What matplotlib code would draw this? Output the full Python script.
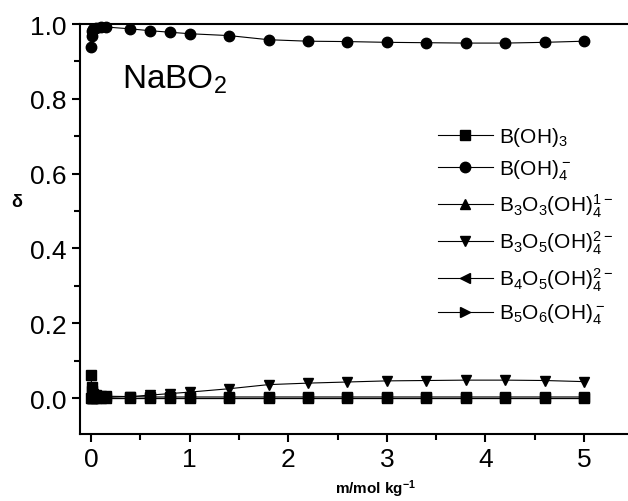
import matplotlib
matplotlib.use("Agg")
import matplotlib.pyplot as plt

plt.rcParams["font.family"] = ["Liberation Sans", "DejaVu Sans"]
plt.rcParams["mathtext.default"] = "regular"

# molality (mol/kg)
m = [0.001, 0.005, 0.01, 0.02, 0.05, 0.1, 0.15, 0.4, 0.6, 0.8, 1.0,
     1.4, 1.8, 2.2, 2.6, 3.0, 3.4, 3.8, 4.2, 4.6, 5.0]

b_oh3 = [0.062, 0.030, 0.018, 0.012, 0.008, 0.006, 0.005, 0.004, 0.003, 0.003, 0.003,
         0.003, 0.003, 0.003, 0.003, 0.003, 0.003, 0.003, 0.003, 0.003, 0.003]
b_oh4 = [0.938, 0.968, 0.980, 0.986, 0.990, 0.992, 0.992, 0.987, 0.982, 0.978, 0.974,
         0.969, 0.958, 0.954, 0.953, 0.951, 0.950, 0.949, 0.949, 0.951, 0.954]
b3o3 = [0.000, 0.000, 0.000, 0.000, 0.000, 0.000, 0.000, 0.000, 0.000, 0.000, 0.000,
        0.000, 0.000, 0.000, 0.000, 0.000, 0.000, 0.000, 0.000, 0.000, 0.000]
b3o5 = [0.000, 0.000, 0.000, 0.001, 0.001, 0.002, 0.002, 0.004, 0.008, 0.012, 0.016,
        0.025, 0.036, 0.040, 0.043, 0.046, 0.047, 0.048, 0.048, 0.047, 0.044]
b4o5 = [0.000, 0.000, 0.000, 0.000, 0.000, 0.000, 0.000, 0.000, 0.000, 0.000, 0.000,
        0.000, 0.000, 0.000, 0.000, 0.000, 0.000, 0.000, 0.000, 0.000, 0.000]
b5o6 = [0.000, 0.000, 0.000, 0.000, 0.000, 0.000, 0.000, 0.000, 0.000, 0.000, 0.000,
        0.000, 0.000, 0.000, 0.000, 0.000, 0.000, 0.000, 0.000, 0.000, 0.000]

series = [
    (b_oh3, "s", r"B(OH)$_3$"),
    (b_oh4, "o", r"B(OH)$_4^-$"),
    (b3o3, "^", r"B$_3$O$_3$(OH)$_4^{1-}$"),
    (b3o5, "v", r"B$_3$O$_5$(OH)$_4^{2-}$"),
    (b4o5, "<", r"B$_4$O$_5$(OH)$_4^{2-}$"),
    (b5o6, ">", r"B$_5$O$_6$(OH)$_4^-$"),
]

fig = plt.figure(figsize=(6.28, 5.02), dpi=100)
ax = fig.add_axes([80 / 628, 67 / 502, 548 / 628, 410 / 502])

for vals, mk, lab in series:
    ax.plot(m, vals, color="black", lw=0.8, marker=mk, markersize=7.5,
            label=lab, clip_on=False)

ax.set_xlim(-0.112, 5.446)
ax.set_ylim(-0.096, 1.0)
ax.set_xticks([0, 1, 2, 3, 4, 5])
ax.set_xticks([0.5, 1.5, 2.5, 3.5, 4.5], minor=True)
ax.set_yticks([0.0, 0.2, 0.4, 0.6, 0.8, 1.0])
ax.set_yticks([0.1, 0.3, 0.5, 0.7, 0.9], minor=True)
ax.yaxis.set_major_formatter(matplotlib.ticker.FormatStrFormatter("%.1f"))

for s in ["left", "bottom", "top"]:
    ax.spines[s].set_linewidth(1.5)
ax.spines["right"].set_visible(False)

ax.tick_params(which="both", width=1.5, labelsize=19, direction="out")
ax.tick_params(which="major", length=6)
ax.tick_params(which="minor", length=4)

ax.set_xlabel(r"m/mol kg$^{-1}$", fontsize=11, fontweight="bold")
ax.xaxis.set_label_coords(0.54, -0.105)
ax.set_ylabel("δ", fontsize=13, fontweight="bold", rotation=0, va="center")
ax.yaxis.set_label_coords(-0.115, 0.566)

ax.text(0.31, 0.83, r"NaBO$_2$", fontsize=24, va="baseline")

ax.legend(loc="upper left", bbox_to_anchor=(430 / 628, 1 - 118 / 502),
          bbox_transform=fig.transFigure, frameon=False, fontsize=15,
          handlelength=2.6, handletextpad=0.3, labelspacing=0.45,
          borderaxespad=0)

fig.savefig("out.png", dpi=100)
